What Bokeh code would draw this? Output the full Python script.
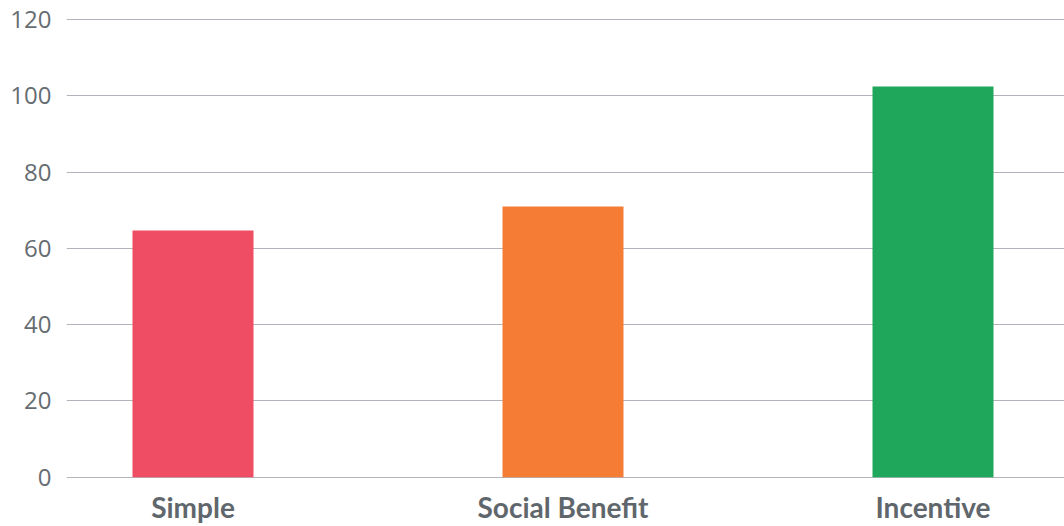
from bokeh.plotting import figure
from bokeh.models import Range1d, FixedTicker, ColumnDataSource
from bokeh.embed import file_html
from bokeh.resources import INLINE

categories = ["Simple", "Social Benefit", "Incentive"]
values = [64.7, 71.0, 102.4]
colors = ["#ef4d63", "#f47c34", "#1fa85b"]
y_ticks = [0, 20, 40, 60, 80, 100, 120]

xs = list(range(len(categories)))
src = ColumnDataSource(dict(x=xs, top=values, color=colors))

p = figure(width=1064, height=526, output_backend="svg", toolbar_location=None,
           x_range=Range1d(-0.3419, 2.3554), y_range=Range1d(-0.34, 120.26),
           min_border_left=66, min_border_right=0, min_border_top=18, min_border_bottom=48)
p.outline_line_color = None
p.background_fill_color = "white"
p.border_fill_color = "white"

p.vbar(x="x", top="top", bottom=0, width=0.327, color="color", source=src, line_color=None)

p.xgrid.grid_line_color = None
p.ygrid.grid_line_color = "#b4b4bc"
p.ygrid.grid_line_width = 1
p.ygrid.ticker = FixedTicker(ticks=y_ticks)

p.yaxis.ticker = FixedTicker(ticks=y_ticks)
p.yaxis.axis_line_color = None
p.yaxis.major_tick_line_color = None
p.yaxis.minor_tick_line_color = None
p.yaxis.major_tick_out = 0
p.yaxis.major_label_standoff = 15
p.yaxis.major_label_text_font = "Open Sans"
p.yaxis.major_label_text_font_size = "24px"
p.yaxis.major_label_text_color = "#666d72"

p.xaxis.ticker = FixedTicker(ticks=xs)
p.xaxis.major_label_overrides = {i: c for i, c in enumerate(categories)}
p.xaxis.axis_line_color = None
p.xaxis.major_tick_line_color = None
p.xaxis.minor_tick_line_color = None
p.xaxis.major_tick_out = 0
p.xaxis.major_label_standoff = 11
p.xaxis.major_label_text_font = "Lato"
p.xaxis.major_label_text_font_style = "bold"
p.xaxis.major_label_text_font_size = "28px"
p.xaxis.major_label_text_color = "#5f676c"

open("out.html", "w").write(file_html(p, INLINE))
